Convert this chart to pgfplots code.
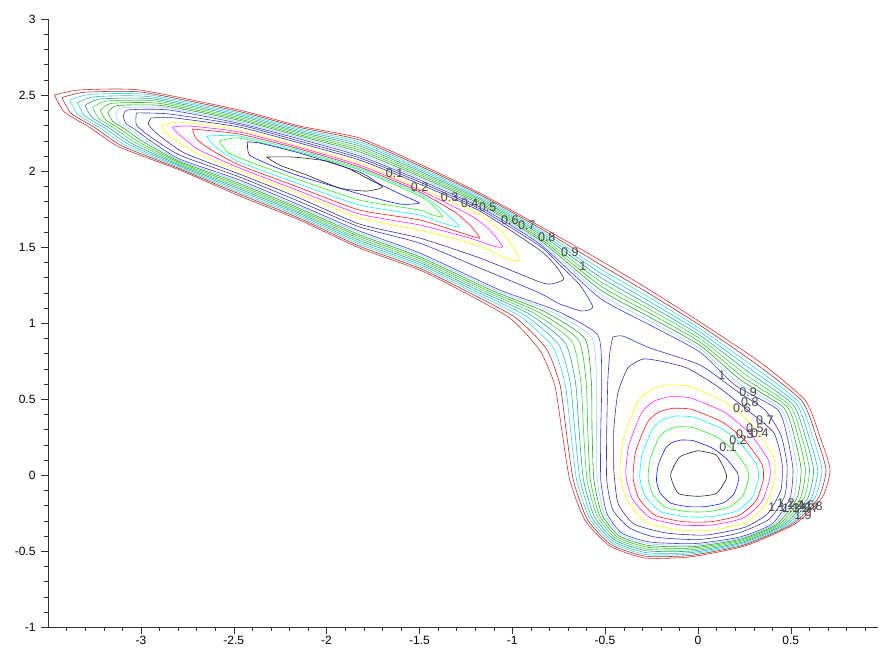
\documentclass[border=0pt]{standalone}
\usepackage{fontspec}
\setmainfont{Liberation Sans}
\usepackage{pgfplots}
\pgfplotsset{compat=1.18}
\definecolor{c2}{rgb}{0.1,0.1,1}
\definecolor{c3}{rgb}{0.15,0.95,0.15}
\definecolor{c4}{rgb}{0.1,0.95,0.95}
\definecolor{c5}{rgb}{1,0.1,0.1}
\definecolor{c6}{rgb}{1,0.15,1}
\definecolor{c7}{rgb}{1,1,0.1}
\definecolor{c9}{rgb}{0.2,0.2,0.62}
\definecolor{c10}{rgb}{0.22,0.22,0.74}
\definecolor{c11}{rgb}{0.25,0.25,0.85}
\definecolor{c12}{rgb}{0.6,0.84,1}
\definecolor{c13}{rgb}{0.2,0.62,0.2}
\definecolor{c14}{rgb}{0.22,0.74,0.22}
\definecolor{c15}{rgb}{0.25,0.85,0.25}
\definecolor{c16}{rgb}{0.2,0.62,0.62}
\definecolor{c17}{rgb}{0.22,0.74,0.74}
\definecolor{c18}{rgb}{0.25,0.85,0.85}
\definecolor{c19}{rgb}{0.66,0.2,0.2}
\definecolor{c20}{rgb}{0.78,0.22,0.22}
\begin{document}
\begin{tikzpicture}
\begin{axis}[
 scale only axis, width=830pt, height=608pt,
 at={(0pt,0pt)}, anchor=south west,
 xmin=-3.5, xmax=0.97, ymin=-1, ymax=3,
 axis lines*=left,
 tick align=outside,
 major tick length=7pt, minor tick length=4pt,
 xtick={-3,-2.5,-2,-1.5,-1,-0.5,0,0.5},
 xticklabels={-3,-2.5,-2,-1.5,-1,-0.5,0,0.5},
 ytick={-1,-0.5,0,0.5,1,1.5,2,2.5,3},
 yticklabels={-1,-0.5,0,0.5,1,1.5,2,2.5,3},
 minor xtick={-3.4,-3.3,-3.2,-3.1,-2.9,-2.8,-2.7,-2.6,-2.4,-2.3,-2.2,-2.1,-1.9,-1.8,-1.7,-1.6,-1.4,-1.3,-1.2,-1.1,-0.9,-0.8,-0.7,-0.6,-0.4,-0.3,-0.2,-0.1,0.1,0.2,0.3,0.4,0.6,0.7,0.8,0.9},
 minor ytick={-0.9,-0.8,-0.7,-0.6,-0.4,-0.3,-0.2,-0.1,0.1,0.2,0.3,0.4,0.6,0.7,0.8,0.9,1.1,1.2,1.3,1.4,1.6,1.7,1.8,1.9,2.1,2.2,2.3,2.4,2.6,2.7,2.8,2.9},
 tick label style={font=\fontsize{12}{14}\selectfont},
 xticklabel style={inner sep=2pt},
 yticklabel style={xshift=-2pt},
 axis line style={black!80},
 tick style={black!80},
 every axis plot/.append style={line width=0.6pt, mark=none, smooth, tension=0.35},
]
% ---- outer merged contours 1.1 .. 2.0
\addplot[c11] coordinates {(-3.094,2.349) (-3.073,2.401) (-2.846,2.401) (-2.469,2.313) (-2.146,2.211) (-1.822,2.099) (-1.499,1.941) (-1.175,1.763) (-0.852,1.520) (-0.528,1.164) (-0.259,0.987) (0.011,0.809) (0.199,0.592) (0.431,0.428) (0.485,0.230) (0.512,0.033) (0.496,-0.151) (0.399,-0.322) (0.226,-0.408) (-0.016,-0.451) (-0.259,-0.441) (-0.410,-0.382) (-0.491,-0.250) (-0.523,-0.033) (-0.523,0.296) (-0.518,0.625) (-0.539,0.921) (-0.771,1.086) (-1.067,1.217) (-1.499,1.461) (-1.822,1.605) (-2.146,1.776) (-2.469,1.941) (-2.792,2.079) (-2.954,2.204) (-3.035,2.276) (-3.078,2.309) (-3.094,2.349)};
\addplot[c12] coordinates {(-3.135,2.366) (-3.102,2.416) (-2.864,2.416) (-2.469,2.323) (-2.146,2.220) (-1.822,2.112) (-1.499,1.953) (-1.175,1.773) (-0.852,1.533) (-0.528,1.192) (-0.259,1.013) (0.011,0.831) (0.214,0.609) (0.447,0.435) (0.504,0.232) (0.534,0.033) (0.515,-0.151) (0.413,-0.322) (0.229,-0.415) (-0.019,-0.461) (-0.262,-0.453) (-0.417,-0.391) (-0.504,-0.255) (-0.542,-0.033) (-0.546,0.296) (-0.546,0.621) (-0.574,0.910) (-0.798,1.080) (-1.091,1.217) (-1.499,1.449) (-1.822,1.593) (-2.146,1.765) (-2.469,1.929) (-2.792,2.071) (-2.972,2.199) (-3.062,2.277) (-3.115,2.318) (-3.135,2.366)};
\addplot[c13] coordinates {(-3.177,2.383) (-3.131,2.430) (-2.882,2.430) (-2.469,2.333) (-2.146,2.230) (-1.822,2.125) (-1.499,1.964) (-1.175,1.783) (-0.852,1.546) (-0.528,1.220) (-0.259,1.038) (0.011,0.853) (0.229,0.626) (0.463,0.442) (0.523,0.234) (0.556,0.033) (0.534,-0.151) (0.427,-0.322) (0.232,-0.421) (-0.022,-0.471) (-0.265,-0.464) (-0.424,-0.401) (-0.517,-0.260) (-0.560,-0.033) (-0.570,0.296) (-0.574,0.618) (-0.609,0.899) (-0.825,1.074) (-1.115,1.217) (-1.499,1.436) (-1.822,1.580) (-2.146,1.754) (-2.469,1.918) (-2.792,2.063) (-2.990,2.194) (-3.089,2.279) (-3.152,2.327) (-3.177,2.383)};
\addplot[c14] coordinates {(-3.218,2.399) (-3.159,2.445) (-2.900,2.445) (-2.469,2.342) (-2.146,2.239) (-1.822,2.138) (-1.499,1.976) (-1.175,1.794) (-0.852,1.559) (-0.528,1.247) (-0.259,1.064) (0.011,0.875) (0.244,0.642) (0.480,0.450) (0.543,0.237) (0.579,0.033) (0.553,-0.151) (0.440,-0.322) (0.235,-0.428) (-0.025,-0.480) (-0.268,-0.476) (-0.431,-0.410) (-0.530,-0.265) (-0.579,-0.033) (-0.593,0.296) (-0.602,0.614) (-0.643,0.888) (-0.852,1.068) (-1.139,1.217) (-1.499,1.424) (-1.822,1.568) (-2.146,1.743) (-2.469,1.906) (-2.792,2.055) (-3.008,2.189) (-3.116,2.280) (-3.189,2.335) (-3.218,2.399)};
\addplot[c15] coordinates {(-3.259,2.416) (-3.188,2.460) (-2.918,2.460) (-2.469,2.352) (-2.146,2.249) (-1.822,2.151) (-1.499,1.988) (-1.175,1.804) (-0.852,1.572) (-0.528,1.275) (-0.259,1.089) (0.011,0.897) (0.259,0.659) (0.496,0.457) (0.562,0.239) (0.601,0.033) (0.572,-0.151) (0.454,-0.322) (0.238,-0.434) (-0.028,-0.490) (-0.271,-0.488) (-0.438,-0.420) (-0.543,-0.270) (-0.597,-0.033) (-0.616,0.296) (-0.630,0.610) (-0.678,0.877) (-0.879,1.062) (-1.163,1.217) (-1.499,1.411) (-1.822,1.555) (-2.146,1.732) (-2.469,1.894) (-2.792,2.047) (-3.026,2.184) (-3.143,2.282) (-3.226,2.344) (-3.259,2.416)};
\addplot[c16] coordinates {(-3.301,2.433) (-3.217,2.474) (-2.936,2.474) (-2.469,2.362) (-2.146,2.258) (-1.822,2.165) (-1.499,1.999) (-1.175,1.814) (-0.852,1.586) (-0.528,1.303) (-0.259,1.115) (0.011,0.919) (0.274,0.676) (0.512,0.464) (0.581,0.241) (0.623,0.033) (0.592,-0.151) (0.468,-0.322) (0.241,-0.441) (-0.031,-0.500) (-0.274,-0.499) (-0.446,-0.429) (-0.557,-0.276) (-0.616,-0.033) (-0.640,0.296) (-0.659,0.607) (-0.713,0.866) (-0.905,1.057) (-1.187,1.217) (-1.499,1.399) (-1.822,1.543) (-2.146,1.722) (-2.469,1.883) (-2.792,2.039) (-3.044,2.178) (-3.170,2.283) (-3.264,2.353) (-3.301,2.433)};
\addplot[c17] coordinates {(-3.342,2.450) (-3.246,2.489) (-2.954,2.489) (-2.469,2.372) (-2.146,2.268) (-1.822,2.178) (-1.499,2.011) (-1.175,1.824) (-0.852,1.599) (-0.528,1.331) (-0.259,1.140) (0.011,0.941) (0.289,0.693) (0.528,0.471) (0.600,0.243) (0.645,0.033) (0.611,-0.151) (0.482,-0.322) (0.244,-0.447) (-0.034,-0.510) (-0.277,-0.511) (-0.453,-0.439) (-0.570,-0.281) (-0.634,-0.033) (-0.663,0.296) (-0.687,0.603) (-0.748,0.855) (-0.932,1.051) (-1.211,1.217) (-1.499,1.386) (-1.822,1.530) (-2.146,1.711) (-2.469,1.871) (-2.792,2.031) (-3.062,2.173) (-3.197,2.285) (-3.301,2.362) (-3.342,2.450)};
\addplot[c18] coordinates {(-3.383,2.466) (-3.274,2.504) (-2.972,2.504) (-2.469,2.381) (-2.146,2.277) (-1.822,2.191) (-1.499,2.023) (-1.175,1.835) (-0.852,1.612) (-0.528,1.358) (-0.259,1.166) (0.011,0.963) (0.304,0.709) (0.545,0.478) (0.620,0.246) (0.668,0.033) (0.630,-0.151) (0.496,-0.322) (0.247,-0.454) (-0.037,-0.519) (-0.280,-0.523) (-0.460,-0.448) (-0.583,-0.286) (-0.653,-0.033) (-0.686,0.296) (-0.715,0.599) (-0.782,0.844) (-0.959,1.045) (-1.235,1.217) (-1.499,1.374) (-1.822,1.518) (-2.146,1.700) (-2.469,1.859) (-2.792,2.023) (-3.080,2.168) (-3.224,2.286) (-3.338,2.370) (-3.383,2.466)};
\addplot[c19] coordinates {(-3.425,2.483) (-3.303,2.518) (-2.990,2.518) (-2.469,2.391) (-2.146,2.287) (-1.822,2.204) (-1.499,2.034) (-1.175,1.845) (-0.852,1.625) (-0.528,1.386) (-0.259,1.191) (0.011,0.985) (0.319,0.726) (0.561,0.486) (0.639,0.248) (0.690,0.033) (0.649,-0.151) (0.509,-0.322) (0.250,-0.460) (-0.040,-0.529) (-0.283,-0.534) (-0.467,-0.458) (-0.596,-0.291) (-0.671,-0.033) (-0.710,0.296) (-0.743,0.596) (-0.817,0.833) (-0.986,1.039) (-1.259,1.217) (-1.499,1.361) (-1.822,1.505) (-2.146,1.689) (-2.469,1.848) (-2.792,2.015) (-3.098,2.163) (-3.251,2.288) (-3.375,2.379) (-3.425,2.483)};
\addplot[c20] coordinates {(-3.466,2.500) (-3.332,2.533) (-3.008,2.533) (-2.469,2.401) (-2.146,2.296) (-1.822,2.217) (-1.499,2.046) (-1.175,1.855) (-0.852,1.638) (-0.528,1.414) (-0.259,1.217) (0.011,1.007) (0.334,0.743) (0.577,0.493) (0.658,0.250) (0.712,0.033) (0.668,-0.151) (0.523,-0.322) (0.253,-0.467) (-0.043,-0.539) (-0.286,-0.546) (-0.474,-0.467) (-0.609,-0.296) (-0.690,-0.033) (-0.733,0.296) (-0.771,0.592) (-0.852,0.822) (-1.013,1.033) (-1.283,1.217) (-1.499,1.349) (-1.822,1.493) (-2.146,1.678) (-2.469,1.836) (-2.792,2.007) (-3.116,2.158) (-3.278,2.289) (-3.412,2.388) (-3.466,2.500)};
% ---- upper-left valley loops
\addplot[c10] coordinates {(-3.024,2.382) (-2.846,2.375) (-2.469,2.303) (-2.146,2.197) (-1.822,2.086) (-1.499,1.928) (-1.175,1.750) (-0.852,1.507) (-0.744,1.382) (-0.636,1.250) (-0.566,1.105) (-0.625,1.079) (-0.744,1.125) (-0.852,1.197) (-1.175,1.362) (-1.499,1.526) (-1.822,1.632) (-2.146,1.799) (-2.469,1.961) (-2.792,2.105) (-2.954,2.230) (-3.024,2.303) (-3.024,2.382)};
\addplot[c9] coordinates {(-2.943,2.349) (-2.819,2.349) (-2.469,2.289) (-2.146,2.184) (-1.822,2.072) (-1.499,1.914) (-1.175,1.737) (-0.852,1.480) (-0.765,1.375) (-0.722,1.289) (-0.787,1.257) (-0.852,1.270) (-1.175,1.428) (-1.499,1.559) (-1.822,1.651) (-2.146,1.822) (-2.469,1.980) (-2.765,2.118) (-2.911,2.243) (-2.960,2.309) (-2.943,2.349)};
\addplot[c7] coordinates {(-2.889,2.296) (-2.792,2.322) (-2.469,2.270) (-2.146,2.164) (-1.822,2.053) (-1.499,1.888) (-1.175,1.711) (-1.040,1.579) (-0.960,1.414) (-1.040,1.428) (-1.175,1.507) (-1.499,1.612) (-1.822,1.691) (-2.146,1.849) (-2.469,2.000) (-2.712,2.125) (-2.857,2.243) (-2.889,2.296)};
\addplot[c6] coordinates {(-2.830,2.289) (-2.739,2.296) (-2.469,2.257) (-2.146,2.155) (-1.822,2.039) (-1.499,1.875) (-1.229,1.711) (-1.121,1.612) (-1.051,1.500) (-1.121,1.513) (-1.229,1.559) (-1.499,1.645) (-1.822,1.717) (-2.146,1.868) (-2.469,2.020) (-2.685,2.138) (-2.803,2.250) (-2.830,2.289)};
\addplot[c5] coordinates {(-2.722,2.276) (-2.469,2.243) (-2.146,2.145) (-1.822,2.026) (-1.499,1.862) (-1.310,1.730) (-1.229,1.645) (-1.175,1.559) (-1.256,1.586) (-1.499,1.678) (-1.822,1.743) (-2.146,1.891) (-2.469,2.039) (-2.620,2.138) (-2.701,2.211) (-2.722,2.276)};
\addplot[c4] coordinates {(-2.647,2.230) (-2.469,2.230) (-2.146,2.135) (-1.822,2.016) (-1.499,1.849) (-1.391,1.757) (-1.283,1.632) (-1.391,1.664) (-1.499,1.711) (-1.822,1.776) (-2.146,1.914) (-2.469,2.059) (-2.598,2.158) (-2.647,2.230)};
\addplot[c3] coordinates {(-2.577,2.197) (-2.469,2.217) (-2.146,2.125) (-1.822,2.007) (-1.499,1.836) (-1.418,1.763) (-1.375,1.697) (-1.445,1.717) (-1.499,1.743) (-1.822,1.809) (-2.146,1.941) (-2.469,2.086) (-2.534,2.125) (-2.577,2.197)};
\addplot[c2] coordinates {(-2.426,2.191) (-2.415,2.105) (-2.291,2.033) (-2.146,1.967) (-1.822,1.849) (-1.606,1.783) (-1.499,1.789) (-1.569,1.829) (-1.714,1.914) (-1.822,1.993) (-2.146,2.118) (-2.361,2.184) (-2.426,2.191)};
\addplot[black!85] coordinates {(-2.323,2.092) (-2.183,2.092) (-2.000,2.066) (-1.876,2.013) (-1.784,1.954) (-1.698,1.895) (-1.784,1.868) (-1.930,1.888) (-2.108,1.974) (-2.253,2.039) (-2.323,2.092)};
% ---- lower minimum loops
\addplot[c10] coordinates {(-0.458,0.908) (-0.404,0.914) (-0.259,0.836) (0.011,0.724) (0.216,0.546) (0.361,0.428) (0.447,0.263) (0.480,0.066) (0.469,-0.132) (0.385,-0.290) (0.210,-0.385) (0,-0.425) (-0.232,-0.408) (-0.367,-0.349) (-0.458,-0.230) (-0.491,-0.033) (-0.491,0.296) (-0.485,0.625) (-0.474,0.809) (-0.458,0.908)};
\addplot[c9] coordinates {(-0.453,0.033) (-0.453,0.296) (-0.431,0.539) (-0.377,0.704) (-0.296,0.763) (-0.205,0.750) (-0.059,0.704) (0.102,0.586) (0.280,0.414) (0.410,0.276) (0.453,0.079) (0.447,-0.099) (0.375,-0.255) (0.250,-0.345) (0.043,-0.395) (-0.167,-0.382) (-0.345,-0.322) (-0.431,-0.184) (-0.453,0.033)};
\addplot[c7] coordinates {(-0.170,0.592) (-0.044,0.582) (0.156,0.473) (0.298,0.320) (0.407,0.120) (0.415,-0.009) (0.369,-0.186) (0.261,-0.310) (0.081,-0.362) (-0.099,-0.362) (-0.278,-0.310) (-0.382,-0.166) (-0.420,0.010) (-0.403,0.229) (-0.328,0.473) (-0.257,0.559) (-0.170,0.592)};
\addplot[c6] coordinates {(-0.155,0.515) (-0.039,0.507) (0.147,0.410) (0.279,0.274) (0.380,0.097) (0.388,-0.017) (0.345,-0.173) (0.244,-0.283) (0.078,-0.329) (-0.089,-0.329) (-0.256,-0.283) (-0.353,-0.156) (-0.388,0.000) (-0.372,0.194) (-0.303,0.410) (-0.237,0.485) (-0.155,0.515)};
\addplot[c5] coordinates {(-0.139,0.439) (-0.034,0.432) (0.135,0.346) (0.254,0.226) (0.345,0.070) (0.352,-0.031) (0.313,-0.169) (0.222,-0.266) (0.072,-0.307) (-0.079,-0.307) (-0.230,-0.266) (-0.318,-0.154) (-0.349,-0.016) (-0.335,0.156) (-0.272,0.346) (-0.212,0.413) (-0.139,0.439)};
\addplot[c4] coordinates {(-0.122,0.388) (-0.026,0.381) (0.127,0.305) (0.236,0.199) (0.319,0.060) (0.325,-0.029) (0.290,-0.152) (0.207,-0.238) (0.070,-0.274) (-0.067,-0.274) (-0.205,-0.238) (-0.284,-0.138) (-0.313,-0.016) (-0.300,0.136) (-0.243,0.305) (-0.189,0.365) (-0.122,0.388)};
\addplot[c3] coordinates {(-0.106,0.318) (-0.025,0.312) (0.104,0.248) (0.196,0.159) (0.266,0.041) (0.271,-0.034) (0.241,-0.138) (0.171,-0.210) (0.055,-0.241) (-0.060,-0.241) (-0.176,-0.210) (-0.244,-0.126) (-0.268,-0.023) (-0.257,0.106) (-0.209,0.248) (-0.163,0.298) (-0.106,0.318)};
\addplot[c2] coordinates {(-0.091,0.230) (-0.025,0.226) (0.081,0.175) (0.155,0.105) (0.213,0.013) (0.217,-0.046) (0.193,-0.127) (0.136,-0.184) (0.041,-0.208) (-0.054,-0.208) (-0.148,-0.184) (-0.203,-0.118) (-0.223,-0.037) (-0.214,0.064) (-0.175,0.175) (-0.137,0.215) (-0.091,0.230)};
\addplot[black!85] coordinates {(0.00,0.16) (0.10,0.13) (0.155,-0.01) (0.10,-0.12) (0.0,-0.14) (-0.106,-0.12) (-0.147,0.0) (-0.097,0.12) (0.00,0.16)};
% ---- contour labels
\begin{scope}[every node/.style={font=\fontsize{12.5}{14}\selectfont, text=black!72, inner sep=0pt}]
\node at (axis cs:-1.633,1.987) {0.1};
\node at (axis cs:-1.499,1.895) {0.2};
\node at (axis cs:-1.337,1.829) {0.3};
\node at (axis cs:-1.229,1.789) {0.4};
\node at (axis cs:-1.132,1.763) {0.5};
\node at (axis cs:-1.013,1.678) {0.6};
\node at (axis cs:-0.922,1.645) {0.7};
\node at (axis cs:-0.814,1.566) {0.8};
\node at (axis cs:-0.690,1.467) {0.9};
\node at (axis cs:-0.620,1.375) {1};
\node at (axis cs:0.129,0.658) {1};
\node at (axis cs:0.270,0.546) {0.9};
\node at (axis cs:0.280,0.480) {0.8};
\node at (axis cs:0.237,0.441) {0.6};
\node at (axis cs:0.361,0.362) {0.7};
\node at (axis cs:0.307,0.309) {0.5};
\node at (axis cs:0.334,0.276) {0.4};
\node at (axis cs:0.253,0.270) {0.3};
\node at (axis cs:0.216,0.230) {0.2};
\node at (axis cs:0.162,0.184) {0.1};
\node at (axis cs:0.426,-0.211) {1.1};
\node at (axis cs:0.474,-0.184) {1.2};
\node at (axis cs:0.501,-0.217) {1.3};
\node at (axis cs:0.528,-0.197) {1.4};
\node at (axis cs:0.555,-0.217) {1.5};
\node at (axis cs:0.582,-0.197) {1.6};
\node at (axis cs:0.604,-0.217) {1.7};
\node at (axis cs:0.625,-0.204) {1.8};
\node at (axis cs:0.566,-0.263) {1.9};
\end{scope}
\end{axis}
\pgfresetboundingbox
\path (-48pt,-27pt) rectangle (832pt,627pt);
\end{tikzpicture}
\end{document}
